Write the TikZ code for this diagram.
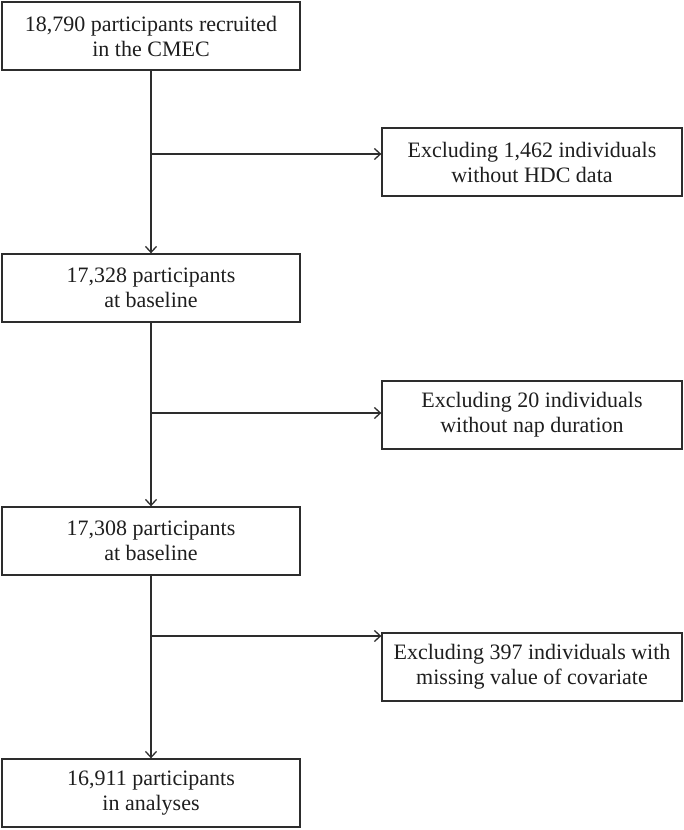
\documentclass[tikz,border=0pt]{standalone}
\usepackage{fontspec}
\setmainfont{Liberation Serif}
\usepackage{tikz}
\usetikzlibrary{arrows.meta,positioning}
\definecolor{flowline}{RGB}{45,45,45}
\definecolor{flowtext}{RGB}{30,30,30}

\begin{document}
\begin{tikzpicture}[x=1pt,y=-1pt,>={Straight Barb[length=6pt,width=11pt]},
  mainbx/.style={draw=flowline,line width=1.3pt,minimum width=298pt,minimum height=68pt,
                 align=center,text=flowtext,font=\fontsize{22}{25}\selectfont,inner sep=0pt},
  exbx/.style={draw=flowline,line width=1.3pt,minimum width=300pt,minimum height=68pt,
               align=center,text=flowtext,font=\fontsize{22}{25}\selectfont,inner sep=0pt},
  ln/.style={draw=flowline,line width=1.3pt}]
  \useasboundingbox (0,0) rectangle (684,830);
  \node[mainbx](rec)  at (151,36)  {18,790 participants recruited\\in the CMEC};
  \node[mainbx](base) at (151,288) {17,328 participants\\at baseline};
  \node[mainbx](nap)  at (151,541) {17,308 participants\\at baseline};
  \node[mainbx](ana)  at (151,793) {16,911 participants\\in analyses};
  \node[exbx](exhdc) at (532,162) {Excluding 1,462 individuals\\without HDC data};
  \node[exbx](exnap) at (532,415) {Excluding 20 individuals\\without nap duration};
  \node[exbx](excov) at (532,667) {Excluding 397 individuals with\\missing value of covariate};

  % branch points on the main line
  \coordinate (j1) at (151,154);
  \coordinate (j2) at (151,413);
  \coordinate (j3) at (151,636);

  \foreach \i/\j in {rec/base,base/nap,nap/ana}{
    \draw[->,ln](\i.south)--(\j.north);}
  \foreach \i/\j in {j1/exhdc,j2/exnap,j3/excov}{
    \draw[->,ln](\i)--(\i -| \j.west);}
\end{tikzpicture}
\end{document}
